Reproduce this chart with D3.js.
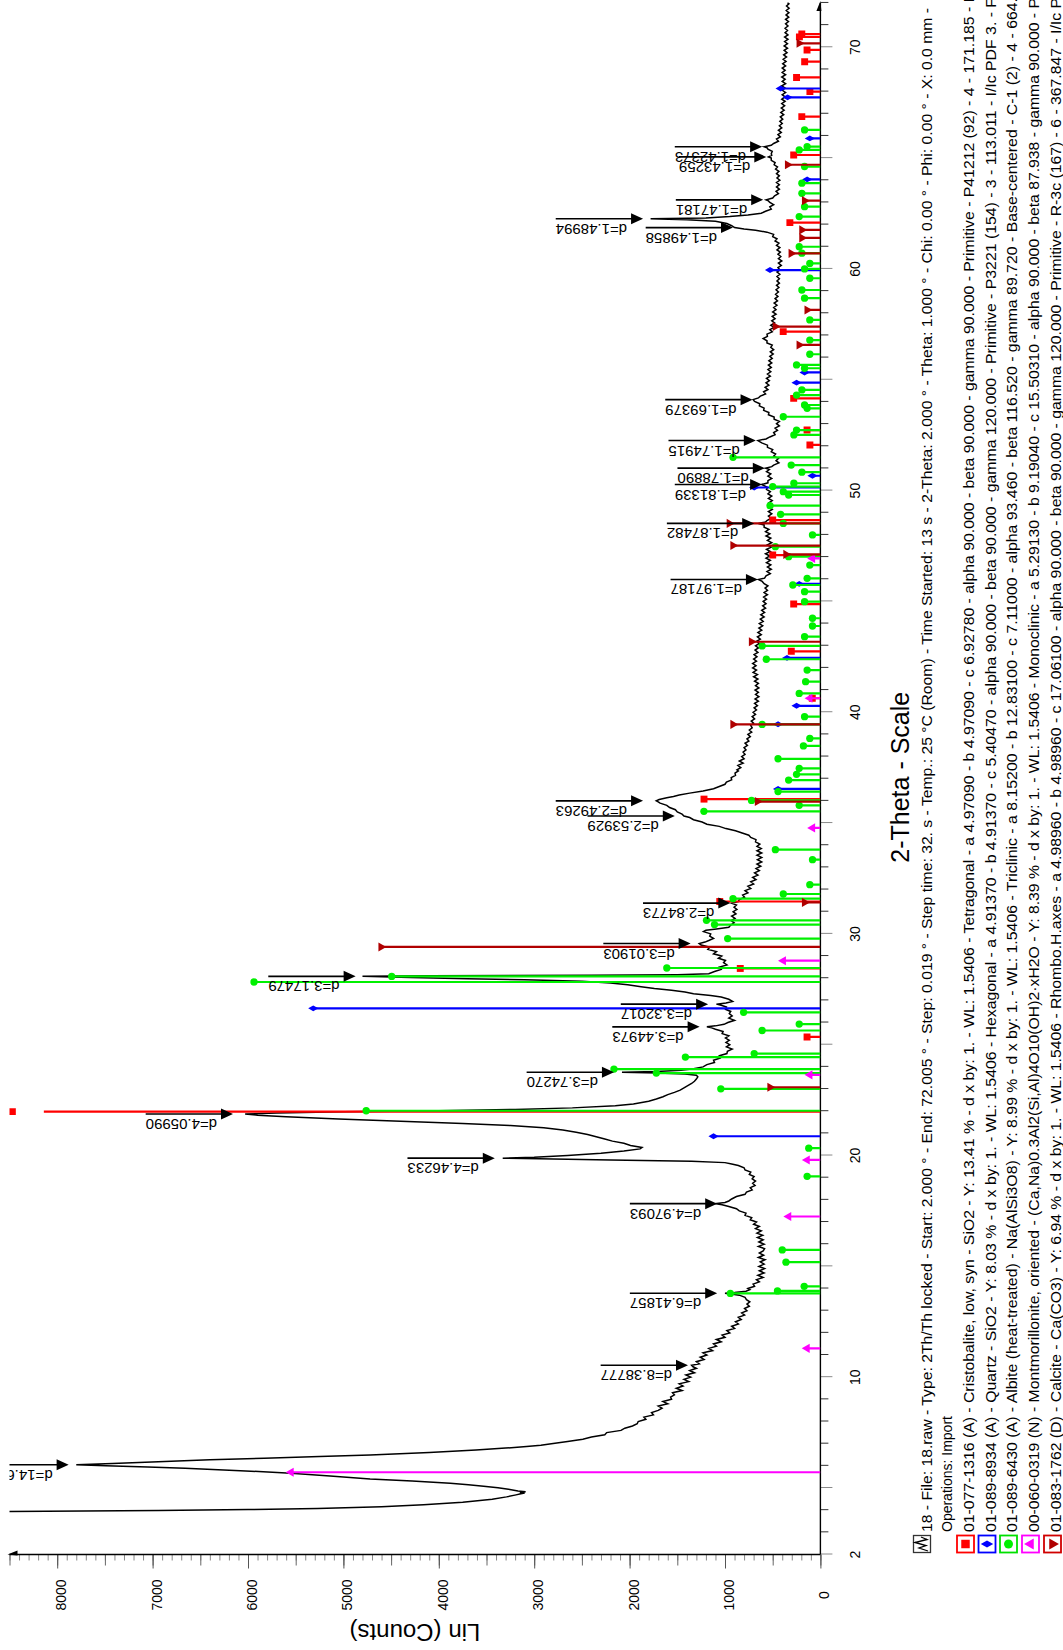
<!DOCTYPE html>
<html>
<head>
<meta charset="utf-8">
<script src="https://cdn.jsdelivr.net/npm/d3@7"></script>
<style>
  html, body { margin: 0; padding: 0; background: #ffffff; }
  svg { display: block; font-family: "Liberation Sans", Arial, Helvetica, sans-serif; }
</style>
</head>
<body>
<svg id="chart" width="1063" height="1650"></svg>
<script>
// ---------------------------------------------------------------
// Measured scan: [2-theta (deg), intensity (counts)]
// ---------------------------------------------------------------
const scanPoints = [
  [2.0,60000],[3.0,25000],[3.6,14500],[3.85,10500],[3.94,8700],[3.98,6940],[4.03,6000],[4.07,5270],[4.15,4600],[4.24,4160],
  [4.36,3750],[4.49,3440],[4.6,3290],[4.69,3190],[4.74,3140],[4.77,3100],[4.8,3150],[4.83,3090],[4.87,3170],[4.94,3270],
  [5.01,3380],[5.08,3530],[5.15,3690],[5.22,3880],[5.32,4280],[5.41,4720],[5.54,5140],[5.67,5550],[5.78,6080],[5.89,6660],
  [5.95,7050],[6.0,7490],[6.049,7800],[6.1,7420],[6.19,6940],[6.27,6400],[6.34,5830],[6.42,5250],[6.49,4720],[6.6,4100],
  [6.72,3610],[6.8,3300],[6.87,3080],[6.93,2930],[7.0,2820],
  [7.1,2650],[7.2,2490],[7.3,2400],[7.4,2260],[7.5,2240],[7.6,2090],[7.7,2050],[7.8,1970],[7.9,1920],[8.0,1910],
  [8.1,1830],[8.2,1850],[8.3,1750],[8.4,1770],[8.5,1700],[8.6,1660],[8.7,1700],[8.8,1600],[8.9,1650],[9.0,1560],
  [9.1,1570],[9.2,1530],[9.3,1550],[9.4,1450],[9.5,1510],[9.6,1440],[9.7,1480],[9.8,1380],[9.9,1430],[10.0,1360],
  [10.1,1410],[10.2,1320],[10.3,1370],[10.4,1300],[10.47,1335],[10.539,1350],[10.6,1270],[10.7,1300],[10.8,1220],[10.9,1260],
  [11.0,1190],[11.1,1230],[11.2,1130],[11.3,1170],[11.4,1090],[11.5,1120],[11.6,1040],[11.7,1090],[11.8,1000],[11.9,1030],
  [12.0,950],[12.1,980],[12.2,900],[12.3,930],[12.4,860],[12.5,890],[12.6,830],[12.7,860],[12.8,795],[12.9,825],
  [13.0,770],[13.1,795],[13.2,745],[13.3,770],[13.4,740],[13.5,775],[13.6,790],[13.7,850],[13.74,920],[13.785,1000],
  [13.82,900],[13.88,780],[13.95,740],[14.0,760],[14.1,690],[14.2,705],[14.3,640],[14.4,670],[14.5,600],[14.6,655],
  [14.7,590],[14.8,640],[14.9,585],[15.0,645],[15.1,590],[15.2,630],[15.3,580],[15.4,650],[15.5,595],[15.6,640],
  [15.7,600],[15.8,585],[15.9,650],[16.0,590],[16.1,645],[16.2,600],[16.3,660],[16.4,605],[16.5,665],[16.6,620],
  [16.7,680],[16.8,640],[16.9,700],[17.0,670],[17.1,735],[17.2,720],[17.3,790],[17.4,780],[17.5,850],[17.6,880],
  [17.7,960],[17.78,1030],[17.83,1110],[17.88,1000],[17.95,960],[18.04,930],[18.15,880],[18.25,790],[18.35,775],[18.45,715],
  [18.55,735],[18.65,685],[18.75,710],[18.85,680],[18.95,715],[19.05,695],[19.15,745],[19.25,730],[19.35,790],[19.45,800],
  [19.55,860],[19.62,930],[19.68,1000],[19.74,1350],[19.8,2200],[19.85,2950],[19.88,3330],[19.92,3000],[20.0,2650],[20.1,2300],
  [20.2,2060],[20.3,1890],[20.36,1870],[20.45,1990],[20.55,2060],[20.65,2180],[20.75,2260],[20.85,2350],[20.95,2440],[21.05,2560],
  [21.15,2700],[21.25,2900],[21.35,3250],[21.45,3750],[21.55,4400],[21.65,5050],[21.75,5600],[21.82,5900],[21.874,6030],[21.92,5700],
  [21.97,5000],[22.02,4000],[22.08,3200],[22.15,2600],[22.25,2150],[22.33,1960],[22.45,1800],[22.55,1720],[22.65,1650],[22.75,1600],
  [22.85,1530],[22.95,1470],[23.05,1430],[23.15,1390],[23.25,1350],[23.35,1320],[23.45,1300],[23.55,1285],[23.62,1300],[23.68,1420],
  [23.72,1700],[23.754,2080],[23.79,1720],[23.85,1460],[23.92,1330],[24.0,1230],
  [24.1,1190],[24.2,1110],[24.3,1120],[24.4,1050],[24.5,1060],[24.6,980],[24.7,975],[24.8,925],[24.9,985],[25.0,950],
  [25.1,990],[25.2,955],[25.3,995],[25.4,960],[25.5,1030],[25.6,1020],[25.7,1100],[25.76,1140],[25.805,1190],[25.85,1100],
  [25.92,1010],[26.0,970],[26.1,900],[26.2,960],[26.3,925],[26.4,955],[26.5,940],[26.6,995],[26.7,985],[26.78,1040],
  [26.83,1090],[26.88,990],[26.95,920],[27.05,960],[27.15,1040],[27.22,1150],[27.3,1330],[27.38,1420],[27.46,1560],[27.54,1740],
  [27.62,1880],[27.7,2020],[27.78,2200],[27.86,2500],[27.93,3100],[27.98,3700],[28.03,4300],[28.085,4800],[28.11,4100],[28.13,2400],
  [28.16,1500],[28.2,1170],[28.3,1110],[28.4,1040],[28.5,1060],[28.6,980],[28.7,1015],[28.8,995],[28.9,1070],[29.0,1035],
  [29.1,1120],[29.2,1090],[29.3,1180],[29.4,1160],[29.5,1250],[29.566,1270],[29.63,1210],[29.7,1170],[29.8,1120],[29.9,1160],
  [30.0,1150],[30.1,1225],[30.16,1200],[30.22,1090],[30.3,960],[30.4,940],[30.5,905],[30.6,935],[30.7,895],[30.8,930],
  [30.9,885],[31.0,915],[31.1,875],[31.2,905],[31.3,880],[31.388,930],[31.46,860],[31.55,850],[31.65,795],[31.75,815],
  [31.85,760],[31.95,790],[32.05,730],[32.15,760],[32.25,700],[32.35,730],[32.45,675],[32.55,710],[32.65,655],[32.75,690],
  [32.85,640],[32.95,675],[33.05,625],[33.15,665],[33.25,615],[33.35,660],[33.45,615],[33.55,665],[33.65,615],[33.75,665],
  [33.85,620],[33.95,665],[34.05,635],[34.15,680],[34.25,675],[34.35,730],[34.45,750],[34.55,820],[34.65,890],[34.75,990],
  [34.85,1060],[34.95,1190],[35.05,1240],[35.15,1330],[35.25,1370],[35.318,1430],[35.4,1450],[35.5,1500],[35.6,1520],[35.7,1580],
  [35.8,1610],[35.9,1680],[35.96,1700],[36.002,1720],[36.06,1690],[36.14,1610],[36.2,1540],[36.27,1480],[36.35,1370],[36.45,1230],
  [36.55,1120],[36.65,1060],[36.75,1000],[36.85,985],[36.95,930],[37.05,935],[37.15,890],[37.25,895],[37.35,860],
  [37.4,875],[37.5,835],[37.6,865],[37.7,810],[37.8,850],[37.9,800],[38.0,825],[38.1,790],[38.2,810],[38.3,780],
  [38.4,800],[38.5,765],[38.6,790],[38.7,750],[38.8,770],[38.9,735],[39.0,760],[39.1,720],[39.2,745],[39.3,715],
  [39.4,730],[39.5,700],[39.6,725],[39.7,690],[39.8,715],[39.9,680],[40.0,705],[40.1,670],[40.2,695],[40.3,660],
  [40.4,690],[40.5,650],[40.6,685],[40.7,645],[40.8,680],[40.9,650],[41.0,685],[41.1,645],[41.2,680],[41.3,650],
  [41.4,690],[41.5,655],[41.6,700],[41.7,660],[41.8,705],[41.9,670],[42.0,710],[42.1,675],[42.2,710],[42.3,670],
  [42.4,700],[42.5,665],[42.6,695],[42.7,655],[42.8,685],[42.9,650],[43.0,680],[43.1,640],[43.2,670],[43.3,630],
  [43.4,660],[43.5,620],[43.6,655],[43.7,615],[43.8,645],[43.9,605],[44.0,640],[44.1,600],[44.2,630],[44.3,590],
  [44.4,625],[44.5,585],[44.6,615],[44.7,575],[44.8,605],[44.9,570],[45.0,600],[45.1,565],[45.2,595],[45.3,555],
  [45.4,590],[45.5,555],[45.6,580],[45.7,550],[45.8,590],[45.9,610],[45.99,650],[46.05,585],[46.15,570],[46.25,525],
  [46.35,560],[46.45,515],[46.55,555],[46.65,520],[46.75,565],[46.85,525],[46.95,570],[47.05,530],[47.15,575],[47.25,525],
  [47.35,565],[47.45,515],[47.55,555],[47.65,510],[47.75,555],[47.85,520],[47.95,570],[48.05,530],[48.15,575],[48.25,540],
  [48.35,590],[48.45,590],[48.516,650],[48.58,575],[48.65,560],[48.75,520],[48.85,545],[48.95,510],[49.05,545],[49.15,505],
  [49.25,545],[49.35,510],[49.45,540],[49.55,505],[49.65,545],[49.75,510],[49.85,550],[49.95,525],[50.05,565],[50.15,555],
  [50.274,615],[50.35,550],[50.45,550],[50.55,510],[50.65,550],[50.75,520],[50.85,565],[50.95,535],[51.012,575],[51.08,510],
  [51.15,490],[51.25,435],[51.35,465],[51.45,440],[51.55,490],[51.65,470],[51.75,515],[51.85,500],[51.95,555],[52.05,555],
  [52.15,615],[52.256,655],[52.33,570],[52.42,530],[52.52,475],[52.62,490],[52.72,450],[52.82,475],[52.92,430],[53.02,460],
  [53.12,430],[53.22,485],[53.32,485],[53.42,545],[53.52,540],[53.62,595],[53.72,590],[53.82,640],[53.92,635],[54.02,690],
  [54.104,705],[54.18,650],[54.26,630],[54.36,575],[54.46,595],[54.56,550],[54.66,580],[54.76,540],[54.86,570],[54.96,535],
  [55.06,565],[55.16,525],[55.26,555],[55.36,520],[55.46,550],[55.56,515],[55.66,545],[55.76,510],[55.86,540],[55.96,505],
  [56.06,530],[56.16,495],[56.26,525],[56.36,490],[56.46,520],[56.56,505],[56.66,560],[56.76,560],[56.86,600],[56.96,555],
  [57.06,560],[57.16,505],[57.26,530],[57.36,485],[57.46,520],[57.56,480],[57.66,510],[57.76,475],[57.86,505],[57.96,465],
  [58.06,500],[58.16,465],[58.26,490],[58.36,455],[58.46,485],[58.56,450],[58.66,475],[58.76,445],[58.86,470],[58.96,440],
  [59.06,465],[59.16,435],[59.26,460],[59.36,430],[59.46,455],[59.56,430],[59.66,455],[59.76,425],[59.86,455],[59.96,425],
  [60.06,445],[60.16,410],[60.26,440],[60.36,405],[60.46,440],[60.56,415],[60.66,445],[60.76,420],[60.86,455],[60.96,425],
  [61.06,460],[61.16,435],[61.26,475],[61.36,455],[61.46,500],[61.56,490],[61.66,560],[61.74,680],[61.8,800],[61.864,900],
  [61.95,930],[62.05,980],[62.15,1100],[62.22,1400],[62.26,1780],[62.3,1200],[62.36,950],[62.43,760],[62.51,620],[62.6,575],
  [62.7,515],[62.8,530],[62.9,490],[63.0,530],[63.07,545],[63.118,570],[63.2,500],[63.3,480],[63.4,440],[63.5,465],
  [63.6,430],[63.7,460],[63.8,430],[63.9,460],[64.0,425],[64.1,455],[64.2,430],[64.3,460],[64.4,435],[64.5,470],
  [64.6,450],[64.7,485],[64.8,475],[64.9,515],[65.0,515],[65.054,545],[65.12,510],[65.2,515],[65.3,505],[65.4,550],
  [65.47,560],[65.512,590],[65.58,515],[65.66,490],[65.76,440],[65.86,460],[65.96,420],[66.06,445],[66.16,410],[66.26,440],
  [66.36,405],[66.46,430],[66.56,400],[66.66,425],[66.76,395],[66.86,420],[66.96,385],[67.06,415],[67.16,380],[67.26,410],
  [67.36,375],[67.46,405],[67.56,370],[67.66,405],[67.76,370],[67.86,400],[67.96,365],[68.06,400],[68.16,370],[68.26,405],
  [68.36,365],[68.46,400],[68.56,370],[68.66,405],[68.76,365],[68.86,400],[68.96,370],[69.06,400],[69.16,365],[69.26,395],
  [69.36,360],[69.46,390],[69.56,355],[69.66,385],[69.76,350],[69.86,380],[69.96,345],[70.06,380],[70.16,345],[70.26,375],
  [70.36,340],[70.46,375],[70.56,340],[70.66,370],[70.76,345],[70.86,370],[70.96,340],[71.06,365],[71.16,335],[71.26,365],
  [71.36,332],[71.46,360],[71.56,330],[71.66,358],[71.76,328],[71.86,355],[71.96,330],[72.0,345]
];

// d-spacing annotations: [d text, counts at the arrow tip]
const peakLabels = [
  ["14.6",7880],["8.38777",1388],["6.41857",1082],["4.97093",1082],["4.46233",3413],["4.05990",6157],
  ["3.74270",2164],["3.44973",1266],["3.32017",1177],["3.17479",4872],["3.01903",1360],["2.84773",944],
  ["2.53929",1526],["2.49263",1859],["1.97187",655],["1.87482",694],["1.81339",611],["1.78890",583],
  ["1.74915",677],["1.69379",711],["1.49858",916],["1.48994",1859],["1.47181",600],["1.43259",567],["1.42373",611]
];

// Reference patterns: [2-theta, stick height in counts]
const cristobaliteSticks = [
  [21.98,8470],[25.35,140],[28.44,840],[31.46,1055],[36.08,1220],[40.63,85],[42.75,305],[44.88,280],[47.09,500],
  [48.67,500],[52.06,110],[52.73,140],[54.16,280],[57.17,390],[62.09,320],[65.14,280],[66.87,195],[68.0,110],
  [68.64,250],[69.35,165],[69.88,140],[70.47,220],[70.6,195]
];
const quartzSticks = [
  [20.87,1120],[26.64,5316],[36.54,444],[39.46,444],[40.29,250],[42.45,350],[45.79,222],[50.14,694],[50.67,83],
  [54.87,250],[55.33,166],[59.95,528],[64.04,139],[65.89,111],[67.74,344],[68.14,417]
];
const albiteSticks = [
  [13.78,944],[13.89,450],[14.1,170],[15.19,361],[15.74,400],[19.06,139],[20.33,122],[22.02,4761],[23.01,1044],
  [23.72,1720],[23.9,2164],[24.44,1415],[24.6,694],[25.64,611],[25.93,222],[26.46,805],[27.83,5937],[28.08,4494],
  [28.46,1610],[29.79,972],[30.42,1110],[30.61,1194],[31.59,916],[31.8,389],[32.22,111],[33.35,83],[33.8,472],
  [35.53,1221],[35.8,222],[36.02,722],[36.42,444],[36.94,333],[37.2,250],[37.47,222],[37.9,444],[38.48,178],
  [38.82,111],[39.45,611],[39.8,166],[40.85,222],[41.38,155],[41.9,139],[42.39,567],[42.99,611],[43.41,166],
  [43.89,83],[44.24,83],[44.99,166],[45.44,166],[45.74,289],[46.04,139],[46.64,111],[47.02,333],[47.47,472],
  [48.0,83],[48.52,389],[48.93,417],[49.32,528],[49.8,333],[49.95,389],[50.18,500],[50.33,278],[50.83,194],
  [51.15,306],[51.5,916],[52.51,278],[52.73,250],[53.33,389],[53.71,139],[53.86,166],[54.31,250],[54.54,194],
  [55.52,166],[55.67,250],[56.15,111],[56.79,111],[57.7,111],[58.68,166],[59.05,194],[59.58,111],[60.0,166],
  [60.25,111],[60.71,194],[61.0,222],[62.36,222],[62.81,166],[63.41,194],[63.87,194],[64.62,166],[65.37,222],
  [65.52,139],[66.27,166]
];
const montmorilloniteSticks = [
  [5.71,5549],[11.3,140],[17.25,333],[19.8,139],[23.64,111],[28.79,389],[34.78,83],[40.63,111],[46.94,83]
];
const calciteSticks = [
  [23.08,528],[29.41,4605],[31.42,166],[35.97,660],[39.45,916],[43.18,722],[47.12,361],[47.52,916],[48.52,955],
  [56.57,222],[57.4,472],[58.15,139],[60.7,306],[61.4,194],[61.76,194],[63.08,166],[64.7,344],[70.18,222]
];

// Axis tick labels
const thetaTickLabels = [2, 10, 20, 30, 40, 50, 60, 70];
const countTickLabels = [0, 1000, 2000, 3000, 4000, 5000, 6000, 7000, 8000];

// Legend text
const scanInfoLines = [
  "18 - File: 18.raw - Type: 2Th/Th locked - Start: 2.000 \u00b0 - End: 72.005 \u00b0 - Step: 0.019 \u00b0 - Step time: 32. s - Temp.: 25 \u00b0C (Room) - Time Started: 13 s - 2-Theta: 2.000 \u00b0 - Theta: 1.000 \u00b0 - Chi: 0.00 \u00b0 - Phi: 0.00 \u00b0 - X: 0.0 mm -",
  "Operations: Import"
];
const phaseLegendLines = [
  "01-077-1316 (A) - Cristobalite, low, syn - SiO2 - Y: 13.41 % - d x by: 1. - WL: 1.5406 - Tetragonal - a 4.97090 - b 4.97090 - c 6.92780 - alpha 90.000 - beta 90.000 - gamma 90.000 - Primitive - P41212 (92) - 4 - 171.185 - I",
  "01-089-8934 (A) - Quartz - SiO2 - Y: 8.03 % - d x by: 1. - WL: 1.5406 - Hexagonal - a 4.91370 - b 4.91370 - c 5.40470 - alpha 90.000 - beta 90.000 - gamma 120.000 - Primitive - P3221 (154) - 3 - 113.011 - I/Ic PDF 3. - F",
  "01-089-6430 (A) - Albite (heat-treated) - Na(AlSi3O8) - Y: 8.99 % - d x by: 1. - WL: 1.5406 - Triclinic - a 8.15200 - b 12.83100 - c 7.11000 - alpha 93.460 - beta 116.520 - gamma 89.720 - Base-centered - C-1 (2) - 4 - 664.",
  "00-060-0319 (N) - Montmorillonite, oriented - (Ca,Na)0.3Al2(Si,Al)4O10(OH)2\u00b7xH2O - Y: 8.39 % - d x by: 1. - WL: 1.5406 - Monoclinic - a 5.29130 - b 9.19040 - c 15.50310 - alpha 90.000 - beta 87.938 - gamma 90.000 - P",
  "01-083-1762 (D) - Calcite - Ca(CO3) - Y: 6.94 % - d x by: 1. - WL: 1.5406 - Rhombo.H.axes - a 4.98960 - b 4.98960 - c 17.06100 - alpha 90.000 - beta 90.000 - gamma 120.000 - Primitive - R-3c (167) - 6 - 367.847 - I/Ic P"
];

const wavelength = 1.5406; // Cu K-alpha1, Angstrom

// ---------------------------------------------------------------
// Drawing (laid out landscape, then turned a quarter turn)
// ---------------------------------------------------------------
const svg = d3.select("#chart");
const root = svg.append("g").attr("transform", "translate(0,1650) rotate(-90)");

const x = d3.scaleLinear().domain([2, 72]).range([95.5, 1647.05]);
const y = d3.scaleLinear().domain([0, 8500]).range([820.4, 9.5]);

root.append("defs").append("clipPath").attr("id", "plotClip")
  .append("rect").attr("x", x(2)).attr("y", y(8500))
  .attr("width", 1650 - x(2)).attr("height", y(0) - y(8500));

// Count axis tick marks (left side of landscape layout)
function countTicks(step, size, color) {
  const g = root.append("g").attr("transform", `translate(${x(2)},0)`)
    .call(d3.axisLeft(y).tickValues(d3.range(0, 8501, step)).tickSize(size).tickSizeOuter(0).tickFormat(""));
  g.select(".domain").remove();
  g.selectAll("line").attr("stroke", color).attr("stroke-width", 1);
}
countTicks(100, 6, "#8a8a8a");
countTicks(500, 11, "#666");
countTicks(1000, 14, "#555");

// 2-theta axis tick marks
function thetaTicks(vals, size, color) {
  const g = root.append("g").attr("transform", `translate(0,${y(0)})`)
    .call(d3.axisBottom(x).tickValues(vals).tickSize(size).tickSizeOuter(0).tickFormat(""));
  g.select(".domain").remove();
  g.selectAll("line").attr("stroke", color).attr("stroke-width", 1);
}
thetaTicks(d3.range(3, 73, 1).filter(v => v % 5 !== 0), 8, "#333");
thetaTicks([2].concat(d3.range(5, 73, 5)), 12, "#8a8a8a");

// Axis lines with end arrows
root.append("line").attr("x1", x(2)).attr("x2", x(2)).attr("y1", y(0)).attr("y2", y(8500))
  .attr("stroke", "#000").attr("stroke-width", 1.4);
root.append("line").attr("x1", x(2)).attr("x2", x(72)).attr("y1", y(0)).attr("y2", y(0))
  .attr("stroke", "#000").attr("stroke-width", 1.4);
root.append("path")
  .attr("d", `M${x(2)},${y(8500) - 2} L${x(2) + 4},${y(8500) + 8} L${x(2) - 1},${y(8500) + 8} Z`)
  .attr("fill", "#000");
root.append("path")
  .attr("d", `M${x(72) + 2},${y(0)} L${x(72) - 8},${y(0) - 4} L${x(72) - 8},${y(0) + 1} Z`)
  .attr("fill", "#000");

// Tick labels
root.append("g").selectAll("text").data(countTickLabels).join("text")
  .attr("x", 55).attr("y", d => y(d) + 9)
  .attr("text-anchor", "middle").attr("font-size", 14).attr("fill", "#000")
  .text(d => d);
root.append("g").selectAll("text").data(thetaTickLabels).join("text")
  .attr("x", d => x(d)).attr("y", 860)
  .attr("text-anchor", "middle").attr("font-size", 14).attr("fill", "#000")
  .text(d => d);

// Axis titles
root.append("text").attr("x", (x(2) + 1650) / 2).attr("y", 909)
  .attr("text-anchor", "middle").attr("font-size", 25).text("2-Theta - Scale");
root.append("text")
  .attr("transform", `translate(26,${(y(0) + y(8500)) / 2}) rotate(-90)`)
  .attr("text-anchor", "middle").attr("font-size", 24).text("Lin (Counts)");

// Plot layer
const plot = root.append("g").attr("clip-path", "url(#plotClip)");

// Scan line
const line = d3.line().x(d => x(d[0])).y(d => y(d[1]));
plot.append("path").datum(scanPoints)
  .attr("d", line).attr("fill", "none")
  .attr("stroke", "#000").attr("stroke-width", 1.5).attr("stroke-linejoin", "miter");

// Stick patterns
const stickLineCap = 8140;
const triangleDown = {
  draw(ctx, size) {
    const s = Math.sqrt(size * 4 / Math.sqrt(3)) / 2;
    const h = s * Math.sqrt(3) / 2;
    ctx.moveTo(-s, -h * 2 / 3);
    ctx.lineTo(s, -h * 2 / 3);
    ctx.lineTo(0, h * 4 / 3);
    ctx.closePath();
  }
};
const phases = [
  { sticks: cristobaliteSticks, color: "#ff0000", border: "#ff0000", symbol: d3.symbolSquare, size: 48 },
  { sticks: quartzSticks, color: "#0000ff", border: "#0000ff", symbol: d3.symbolDiamond, size: 30 },
  { sticks: albiteSticks, color: "#00f000", border: "#00e000", symbol: d3.symbolCircle, size: 42 },
  { sticks: montmorilloniteSticks, color: "#ff00ff", border: "#ff00ff", symbol: d3.symbolTriangle, size: 36 },
  { sticks: calciteSticks, color: "#b00000", border: "#d00000", symbol: triangleDown, size: 36 }
];
phases.forEach(p => {
  const g = plot.append("g");
  g.selectAll("line").data(p.sticks).join("line")
    .attr("x1", d => x(d[0])).attr("x2", d => x(d[0]))
    .attr("y1", y(0)).attr("y2", d => y(Math.min(d[1], stickLineCap)))
    .attr("stroke", p.color).attr("stroke-width", 2.2);
  g.selectAll("path").data(p.sticks).join("path")
    .attr("transform", d => `translate(${x(d[0])},${y(d[1])})`)
    .attr("d", d3.symbol(p.symbol, p.size))
    .attr("fill", p.color);
});

// d-spacing arrows
const labelLayer = plot.append("g");
peakLabels.forEach(([dText, tip]) => {
  const twoTheta = 2 * Math.asin(wavelength / (2 * parseFloat(dText))) * 180 / Math.PI;
  const X = x(twoTheta), Y = y(tip);
  const g = labelLayer.append("g");
  const t = g.append("text")
    .attr("transform", `translate(${X - 5},${Y - 16}) rotate(-90)`)
    .attr("font-size", 15).attr("fill", "#000")
    .text("d=" + dText);
  const len = t.node().getComputedTextLength();
  g.append("line").attr("x1", X).attr("x2", X).attr("y1", Y - 11).attr("y2", Y - 16 - len)
    .attr("stroke", "#000").attr("stroke-width", 1.6);
  g.append("path").attr("d", `M${X},${Y} L${X - 5.5},${Y - 12} L${X + 5.5},${Y - 12} Z`).attr("fill", "#000");
});

// Legend
const legend = root.append("g");
const infoBaselines = [932, 952];
const phaseBaselines = [974, 995.5, 1017, 1039, 1061];
const textStart = 118;

function fitLine(sel, target) {
  sel.attr("textLength", target).attr("lengthAdjust", "spacingAndGlyphs");
}

// scan icon
legend.append("rect").attr("x", 97.5).attr("y", 913.5).attr("width", 17).attr("height", 17)
  .attr("fill", "#fff").attr("stroke", "#333").attr("stroke-width", 1.3);
legend.append("polyline")
  .attr("points", "99,928 102,919 104.5,926 107.5,915 110.5,927 113,921")
  .attr("fill", "none").attr("stroke", "#000").attr("stroke-width", 1.3);

scanInfoLines.forEach((s, i) => {
  const t = legend.append("text").attr("x", textStart).attr("y", infoBaselines[i])
    .attr("font-size", 14).text(s);
  if (i === 0) fitLine(t, 1524);
});

phaseLegendLines.forEach((s, i) => {
  const p = phases[i];
  const top = phaseBaselines[i] - 17;
  legend.append("rect").attr("x", 97.5).attr("y", top).attr("width", 17).attr("height", 17)
    .attr("fill", "#fff").attr("stroke", p.border).attr("stroke-width", 1.8);
  legend.append("path")
    .attr("transform", `translate(106,${top + 8.5})`)
    .attr("d", d3.symbol(p.symbol, p.size * 1.5))
    .attr("fill", p.color);
  const t = legend.append("text").attr("x", textStart).attr("y", phaseBaselines[i])
    .attr("font-size", 14).text(s);
  fitLine(t, 1534);
});
</script>
</body>
</html>
